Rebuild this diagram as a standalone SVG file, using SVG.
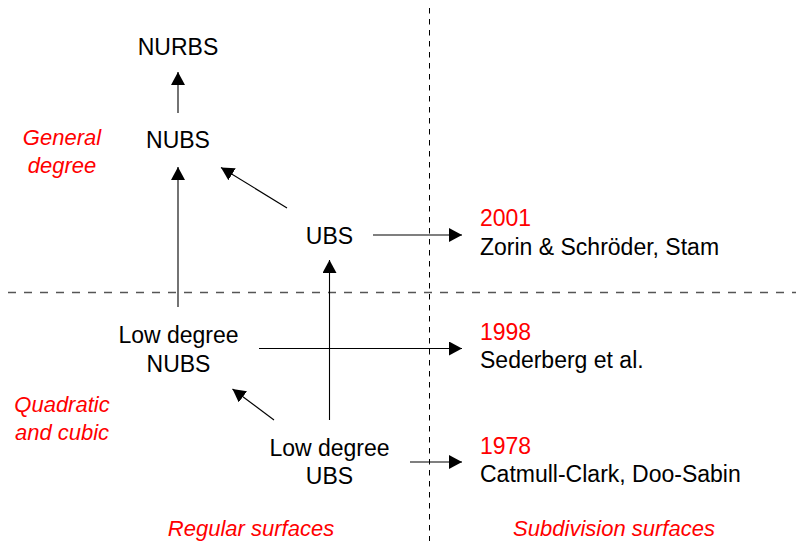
<svg xmlns="http://www.w3.org/2000/svg" width="796" height="541" viewBox="0 0 796 541">
  <style>
    .lbl { font-family: "Liberation Sans", Arial, sans-serif; font-size: 23px; fill: #000; }
    .yr { font-family: "Liberation Sans", Arial, sans-serif; font-size: 23px; fill: #ff0000; }
    .cat { font-family: "Liberation Sans", Arial, sans-serif; font-size: 22px; font-style: italic; fill: #ff0000; }
    .mid { text-anchor: middle; }
    .edge { stroke: #000; stroke-width: 1.1; fill: none; marker-end: url(#arrow); }
  </style>
  <defs>
    <marker id="arrow" markerUnits="userSpaceOnUse" markerWidth="14" markerHeight="14" refX="13" refY="7" orient="auto">
      <path d="M0,0 L13,7 L0,14 Z" fill="#000"/>
    </marker>
  </defs>
  <rect width="796" height="541" fill="#fff"/>

  <!-- quadrant separators -->
  <g id="grid">
    <line x1="8" y1="292.5" x2="796" y2="292.5" stroke="#555" stroke-width="1.3" stroke-dasharray="8 8"/>
    <line x1="429.5" y1="8" x2="429.5" y2="541" stroke="#000" stroke-width="1" stroke-dasharray="5.5 5.5"/>
  </g>

  <!-- axis captions -->
  <g id="captions">
    <text class="cat mid" x="62" y="145">General</text>
    <text class="cat mid" x="62" y="173">degree</text>
    <text class="cat mid" x="62" y="412">Quadratic</text>
    <text class="cat mid" x="62" y="440">and cubic</text>
    <text class="cat mid" x="251" y="536">Regular surfaces</text>
    <text class="cat mid" x="614" y="536">Subdivision surfaces</text>
  </g>

  <g id="nurbs"><text class="lbl mid" x="178" y="55">NURBS</text></g>
  <g id="nubs"><text class="lbl mid" x="178" y="148">NUBS</text></g>
  <g id="ubs"><text class="lbl mid" x="329.5" y="244">UBS</text></g>
  <g id="lownubs">
    <text class="lbl mid" x="178.5" y="343">Low degree</text>
    <text class="lbl mid" x="178.5" y="372">NUBS</text>
  </g>
  <g id="lowubs">
    <text class="lbl mid" x="329.5" y="456">Low degree</text>
    <text class="lbl mid" x="329.5" y="484">UBS</text>
  </g>

  <g id="ref2001">
    <text class="yr" x="480" y="226">2001</text>
    <text class="lbl" x="480" y="255">Zorin &amp; Schröder, Stam</text>
  </g>
  <g id="ref1998">
    <text class="yr" x="480" y="340">1998</text>
    <text class="lbl" x="480" y="368">Sederberg et al.</text>
  </g>
  <g id="ref1978">
    <text class="yr" x="480" y="454">1978</text>
    <text class="lbl" x="480" y="482">Catmull-Clark, Doo-Sabin</text>
  </g>

  <!-- connectors -->
  <g id="connectors">
    <line class="edge" x1="178" y1="113" x2="178" y2="72"/>
    <line class="edge" x1="178" y1="307" x2="178" y2="167"/>
    <line class="edge" x1="287" y1="208" x2="221" y2="167.5"/>
    <line class="edge" x1="373" y1="235" x2="462" y2="235"/>
    <line class="edge" x1="329.5" y1="420" x2="329.5" y2="260"/>
    <line class="edge" x1="259" y1="348.5" x2="462" y2="348.5"/>
    <line class="edge" x1="274" y1="420" x2="232.5" y2="389"/>
    <line class="edge" x1="410" y1="462" x2="462" y2="462"/>
  </g>
</svg>
